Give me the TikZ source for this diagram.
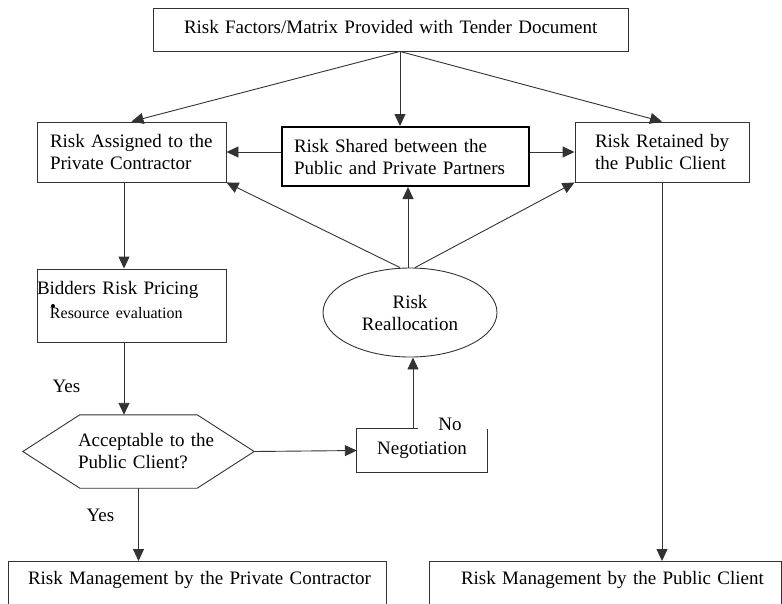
\documentclass[tikz,border=0pt]{standalone}
\usepackage{fontspec}
\setmainfont{Liberation Serif}
\usetikzlibrary{arrows.meta,shapes.geometric,calc}

\newcommand{\mainsize}{\fontsize{19}{22}\selectfont}
\newcommand{\smallsize}{\fontsize{16}{19}\selectfont}

\tikzset{
  ln/.style={draw=black!80, line width=0.9pt},
  arr/.style={ln, -{Triangle[length=12pt,width=11pt]}},
  frame/.style={draw=black!80, line width=0.9pt, rectangle, align=left,
    inner ysep=0pt, font=\mainsize},
  plain/.style={inner sep=0pt, font=\mainsize, align=center},
}

\begin{document}
\begin{tikzpicture}[x=1pt, y=-1pt]
  \useasboundingbox (0,0) rectangle (782,603);
  \clip (0,0) rectangle (782,603);

  % --- top level
  \node[frame, minimum width=475pt, minimum height=43pt, inner xsep=31pt,
        text width=413pt] (T) at (390.5,29.5)
        {\mbox{Risk Factors/Matrix Provided with Tender Document}\rule[-5pt]{0pt}{0pt}};

  % --- three allocation boxes
  \node[frame, minimum width=189pt, minimum height=60pt, inner xsep=13pt,
        text width=163pt] (A) at (131.5,152)
        {\mbox{Risk Assigned to the}\\\mbox{Private Contractor}};
  \node[frame, draw=black, line width=2pt, minimum width=247pt, minimum height=59pt,
        inner xsep=12pt, text width=223pt] (S) at (405.5,156.5)
        {\mbox{Risk Shared between the}\\\mbox{Public and Private Partners}};
  \node[frame, minimum width=174pt, minimum height=60pt, inner xsep=20pt,
        text width=134pt] (R) at (662,152)
        {\mbox{Risk Retained by}\\\mbox{the Public Client}};

  % --- bidders pricing
  \node[frame, minimum width=189pt, minimum height=73pt, inner xsep=0pt,
        text width=189pt] (B) at (131.5,305.5)
        {\mbox{Bidders Risk Pricing}\\[2pt]
         {\smallsize\hspace*{13pt}Resource evaluation\rule[-12pt]{0pt}{0pt}}};
  % stray list bullet sitting on the second line
  \fill[black] (53,306) circle (2pt);

  % --- decision hexagon
  \node[plain, align=left, minimum width=231pt, minimum height=73pt,
        text width=121pt] (H) at (138.5,451.5)
        {\mbox{Acceptable to the}\\\mbox{Public Client?}};
  \draw[ln] (H.west) -- ($(H.north west)+(57,0)$) -- ($(H.north east)+(-57,0)$)
        -- (H.east) -- ($(H.south east)+(-57,0)$) -- ($(H.south west)+(57,0)$) -- cycle;

  % --- negotiation (top edge partly open)
  \node[plain, minimum width=130pt, minimum height=43pt] (N) at (422,450.5) {Negotiation};
  \draw[ln] ($(N.north west)+(61,0)$) -- (N.north west) -- (N.south west)
        -- (N.south east) -- (N.north east);
  \node[plain] (no) at (450,424) {No};

  % --- reallocation
  \node[ln, ellipse, minimum width=174pt, minimum height=89pt, inner sep=0pt,
        font=\mainsize, align=center] (E) at (410,312.5) {Risk\\Reallocation};

  % --- management boxes, running off the lower edge
  \node[frame, anchor=north, minimum width=378pt, inner xsep=20pt, text width=338pt,
        inner ysep=10pt, text height=13pt, text depth=60pt] (MP) at (197,561)
        {\mbox{Risk Management by the Private Contractor}};
  \node[frame, anchor=north, minimum width=352pt, inner xsep=32pt, text width=288pt,
        inner ysep=10pt, text height=13pt, text depth=60pt] (MC) at (605,561)
        {\mbox{Risk Management by the Public Client}};

  % --- labels
  \node[plain] (yes1) at (66.5,386) {Yes};
  \node[plain] (yes2) at (100.5,515) {Yes};

  % --- connectors from the tender document
  \coordinate (tp) at ([xshift=9.5pt]T.south);
  \draw[arr] (tp) -- (A.north);
  \draw[arr] (tp) -- (tp |- S.north);
  \draw[arr] (tp) -- (R.north);

  % --- shared risk split sideways
  \draw[arr] (S.west |- A.east) -- (A.east);
  \draw[arr] (S.east |- R.west) -- (R.west);

  % --- private contractor chain
  \draw[arr] ([xshift=-7.5pt]A.south) -- ([xshift=-7.5pt]B.north);
  \draw[arr] ([xshift=-7.5pt]B.south) -- ([xshift=-7.5pt]B.south |- H.north);
  \draw[arr] (H.east) -- (N.west);
  \draw[arr] (H.south) -- (H.south |- MP.north);

  % --- public client chain
  \draw[arr] (R.south) -- (R.south |- MC.north);

  % --- negotiation back to reallocation
  \draw[arr] ([xshift=-9pt]N.north) -- ([xshift=-9pt]N.north |- E.south);

  % --- reallocation fans out
  \draw[arr] ([xshift=-10pt]E.north) -- (A.south east);
  \draw[arr] ([xshift=-2pt]E.north) -- ([xshift=-2pt]E.north |- S.south);
  \draw[arr] ([xshift=5pt]E.north) -- (R.south west);
\end{tikzpicture}
\end{document}
